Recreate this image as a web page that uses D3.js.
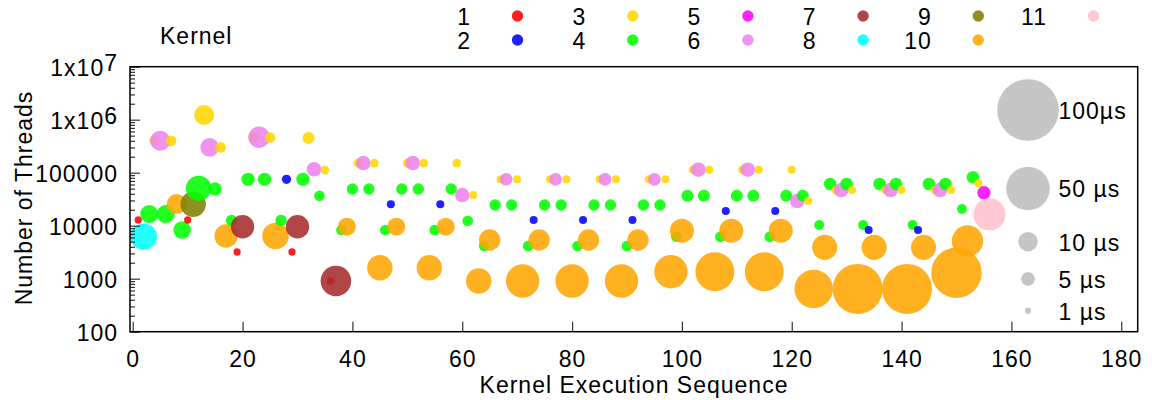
<!DOCTYPE html>
<html>
<head>
<meta charset="utf-8">
<script src="https://cdn.jsdelivr.net/npm/d3@7"></script>
<style>
  html, body { margin: 0; padding: 0; background: #fff; }
  svg text { font-family: "Liberation Sans", Arial, Helvetica, sans-serif; fill: #000; }
</style>
</head>
<body>
<svg id="chart" width="1155" height="400"></svg>
<script>
// Kernel launches: sequence index, kernel id, thread count, execution time (µs)
const sequence = [
  1,2,3,4,5,6,7,8,9,10, 11,12,13,14,15,16,17,18,19,20,
  21,22,23,24,25,26,27,28,29,30, 31,32,33,34,35,36,37,38,39,40,
  41,42,43,44,45,46,47,48,49,50, 51,52,53,54,55,56,57,58,59,60,
  61,62,63,64,65,66,67,68,69,70, 71,72,73,74,75,76,77,78,79,80,
  81,82,83,84,85,86,87,88,89,90, 91,92,93,94,95,96,97,98,99,100,
  101,102,103,104,105,106,107,108,109,110, 111,112,113,114,115,116,117,118,119,120,
  121,122,123,124,125,126,127,128,129,130, 131,132,133,134,135,136,137,138,139,140,
  141,142,143,144,145,146,147,148,149,150, 151,152,153,154,155,156
];
const kernel = [
  1,8,4,3,6,4,3,10,4,1, 9,4,3,6,4,3,10,4,1,7,
  4,3,6,4,3,10,4,2,1,7, 4,3,6,4,3,1,7,4,10,4,
  3,6,4,3,10,4,2,10,4,3, 6,4,3,10,4,2,10,4,3,6,
  4,3,10,4,10,4,3,6,4,3, 10,4,2,10,4,3,6,4,3,10,
  4,2,10,4,3,6,4,3,10,4, 2,10,4,3,6,4,3,10,4,10,
  4,3,6,4,3,10,4,2,10,4, 3,6,4,3,10,4,2,10,4,3,
  6,4,3,10,4,10,4,3,6,4, 3,10,4,2,10,4,3,6,4,3,
  10,4,2,10,4,3,6,4,3,10, 4,10,4,3,5,11
];
const threads = [
  12800,6200,16600,400000,400000,16600,400000,25600,8300,12800,
  25400,50700,1230000,300000,49200,300000,6400,12600,3190,9570,
  75000,460000,466000,75000,460000,6400,12600,75000,3190,9570,
  75000,450000,116000,36800,112000,906,906,8300,9570,49200,
  152000,152000,49200,152000,1610,8300,25400,9570,49200,152000,
  152000,49200,152000,1610,8300,25400,9570,49200,152000,37900,
  12400,37900,906,4140,5370,24600,75000,75000,24600,75000,
  906,4140,12800,5370,24600,75000,75000,24600,75000,906,
  4140,12800,5370,24600,75000,75000,24600,75000,906,4140,
  12800,5370,24600,75000,75000,24600,75000,1356,6190,8050,
  36800,114000,114000,36800,114000,1356,6190,18900,8050,36800,
  114000,114000,36800,114000,1356,6190,18900,8050,36800,114000,
  29200,36800,29200,640,10300,3900,61200,47200,47200,61200,
  47200,640,10300,8300,3900,61200,47200,47200,61200,47200,
  640,10300,8300,3900,61200,47200,47200,61200,47200,1297,
  20700,5140,81800,63000,42000,16400
];
const durationUs = [
  1.4,18.6,8.5,3,10.5,8.5,3,10.5,8,1.4,
  17,17,10.5,9.1,4.7,3,14.4,3.4,1.4,14.4,
  4.7,3,12,4.7,3,18.6,3.4,2.3,1.4,14.4,
  4.7,3.8,5.6,3,2,1.4,24.7,3,8.5,3.4,
  2,5.6,3.4,2,17,3,1.7,8.5,3.4,2,
  5.6,3.4,2,17,3,1.7,8.5,3.4,2,5.6,
  3,1.7,17,3,12,3.4,1.7,4.2,3.4,1.7,
  29.4,3,1.7,12,3.4,1.7,4.2,3.4,1.7,29.4,
  3,1.7,12,3.4,1.7,4.2,3.4,1.7,29.4,3,
  1.7,12,3.4,1.7,4.2,3.4,1.7,29.4,3,15.2,
  3.8,1.7,5.6,3.8,1.7,40,3,1.7,15.2,3.8,
  1.7,5.6,3.8,1.7,40,3,1.7,15.2,3.8,1.7,
  5.6,3.8,1.7,39,2.6,16.5,4.2,1.7,5.6,4.2,
  1.7,66,2.6,1.7,16.5,4.2,1.7,5.6,4.2,1.7,
  66,2.6,1.7,16.5,4.2,1.7,5.6,4.2,1.7,67,
  2.6,26,4.2,1.7,4.7,27
];

const kernelIds = [1,2,3,4,5,6,7,8,9,10,11];
const kernelColors = ["#ff0000","#0000ff","#ffd700","#00ff00","#ff00ff","#ee82ee",
                      "#a52a2a","#00ffff","#808000","#ffa500","#ffc0cb"];
const xTicks = [0,20,40,60,80,100,120,140,160,180];
const yTicks = [100,1000,10000,100000,1e6,1e7];
const sizeKeyUs = [100,50,10,5,1];
const sizeKeyLabels = ["100µs","50 µs","10 µs","5 µs","1 µs"];

const svg = d3.select("#chart");
const plot = { left: 130, top: 66.7, right: 1137.7, bottom: 331.7 };
const fontSize = 23, spacing = 1;

const x = d3.scaleLinear().domain([-0.5, 183]).range([plot.left, plot.right]);
const y = d3.scaleLog().domain([100, 1e7]).range([plot.bottom, plot.top]);
const r = d3.scaleSqrt().domain([0, 100]).range([0, 30.8]);
const color = d3.scaleOrdinal().domain(kernelIds).range(kernelColors);
const fillAlpha = 0.87;

// Bubbles in launch order, so each later launch sits on top of earlier ones
const rows = sequence.map((s, i) => ({ s, k: kernel[i], t: threads[i], d: durationUs[i] }));
svg.append("g").selectAll("circle").data(rows).join("circle")
  .attr("cx", d => x(d.s))
  .attr("cy", d => y(d.t))
  .attr("r", d => r(d.d))
  .attr("fill", d => color(d.k))
  .attr("fill-opacity", fillAlpha);

// Size key inside the plot
const key = svg.append("g");
const keyY = [110, 188.5, 241.7, 279, 310.7];
sizeKeyUs.forEach((v, i) => {
  key.append("circle").attr("cx", 1028).attr("cy", keyY[i]).attr("r", r(v))
    .attr("fill", "#c0c0c0").attr("fill-opacity", 0.92);
  key.append("text").attr("x", 1058.5).attr("y", keyY[i] + 8.8)
    .attr("font-size", fontSize).attr("letter-spacing", spacing)
    .text(sizeKeyLabels[i]);
});

// Axes with inward ticks
svg.append("g").attr("transform", `translate(0,${plot.bottom})`)
  .call(d3.axisBottom(x).tickValues(xTicks).tickSize(-10).tickPadding(19).tickFormat(d3.format("d")));
const yMinor = [];
[100, 1000, 10000, 100000, 1e6].forEach(b => { for (let m = 2; m <= 9; m++) yMinor.push(b * m); });
svg.append("g").attr("transform", `translate(${plot.left},0)`)
  .call(d3.axisLeft(y).tickValues(yMinor).tickSize(-5).tickFormat(""));
const yAxis = svg.append("g").attr("transform", `translate(${plot.left},0)`)
  .call(d3.axisLeft(y).tickValues(yTicks).tickSize(-10).tickPadding(12).tickFormat(d3.format("d")));

svg.selectAll(".domain").remove();
svg.selectAll(".tick line").attr("stroke", "#333").attr("stroke-width", 1.2);
svg.selectAll(".tick text").attr("font-size", fontSize).attr("letter-spacing", spacing)
  .attr("font-family", null);
yAxis.selectAll(".tick text").attr("dy", "0.4em").each(function(d) {
  if (d >= 1e6) {
    const t = d3.select(this).text("1x10");
    t.append("tspan").attr("dy", "-0.22em").text(Math.round(Math.log10(d)));
  }
});

// Frame
svg.append("rect").attr("x", plot.left).attr("y", plot.top)
  .attr("width", plot.right - plot.left).attr("height", plot.bottom - plot.top)
  .attr("fill", "none").attr("stroke", "#000").attr("stroke-width", 1.5);

// Axis titles
svg.append("text").attr("x", 634).attr("y", 392.5).attr("text-anchor", "middle")
  .attr("font-size", fontSize).attr("letter-spacing", spacing)
  .text("Kernel Execution Sequence");
svg.append("text").attr("transform", "translate(31.5,198) rotate(-90)")
  .attr("text-anchor", "middle").attr("font-size", fontSize).attr("letter-spacing", spacing)
  .text("Number of Threads");

// Kernel colour legend
const legend = svg.append("g");
legend.append("text").attr("x", 160).attr("y", 44).attr("font-size", fontSize)
  .attr("letter-spacing", spacing).text("Kernel");
kernelIds.forEach((k, i) => {
  const col = Math.floor(i / 2), row = i % 2;
  const lx = 471 + col * 115.2;
  const ly = row === 0 ? 16 : 40;
  legend.append("text").attr("x", lx).attr("y", ly + 9).attr("text-anchor", "end")
    .attr("font-size", fontSize).attr("letter-spacing", spacing).text(k);
  legend.append("circle").attr("cx", lx + 46.5).attr("cy", ly).attr("r", 5.7)
    .attr("fill", color(k)).attr("fill-opacity", fillAlpha);
});
</script>
</body>
</html>
